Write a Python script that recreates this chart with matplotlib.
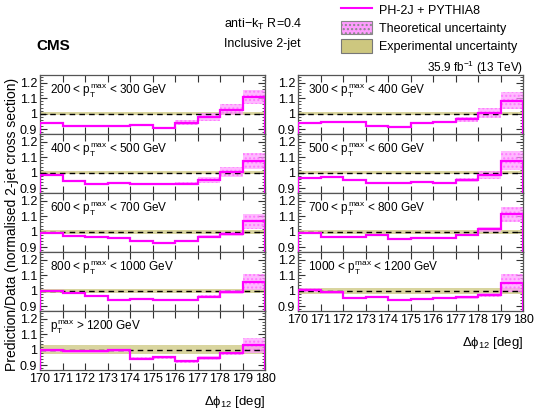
import numpy as np
import matplotlib
matplotlib.use("Agg")
import matplotlib.pyplot as plt
from matplotlib.patches import Patch
from matplotlib.lines import Line2D

plt.rcParams['font.family'] = ['Liberation Sans', 'DejaVu Sans']
plt.rcParams['mathtext.fontset'] = 'custom'
plt.rcParams['mathtext.rm'] = 'Liberation Sans'
plt.rcParams['mathtext.it'] = 'Liberation Sans'

# bin edges in delta phi_12 [deg]
edges = np.arange(170, 181, 1)

# panel labels
labels_left = ["200 < $p_{\\mathrm{T}}^{\\mathrm{max}}$ < 300 GeV",
               "400 < $p_{\\mathrm{T}}^{\\mathrm{max}}$ < 500 GeV",
               "600 < $p_{\\mathrm{T}}^{\\mathrm{max}}$ < 700 GeV",
               "800 < $p_{\\mathrm{T}}^{\\mathrm{max}}$ < 1000 GeV",
               "$p_{\\mathrm{T}}^{\\mathrm{max}}$ > 1200 GeV"]
labels_right = ["300 < $p_{\\mathrm{T}}^{\\mathrm{max}}$ < 400 GeV",
                "500 < $p_{\\mathrm{T}}^{\\mathrm{max}}$ < 600 GeV",
                "700 < $p_{\\mathrm{T}}^{\\mathrm{max}}$ < 800 GeV",
                "1000 < $p_{\\mathrm{T}}^{\\mathrm{max}}$ < 1200 GeV"]

# PH-2J + PYTHIA8 / data ratio per bin
ratio_200 = [0.943, 0.921, 0.919, 0.919, 0.926, 0.911, 0.943, 0.979, 1.026, 1.106]
ratio_400 = [0.985, 0.950, 0.925, 0.933, 0.925, 0.925, 0.930, 0.956, 1.006, 1.075]
ratio_600 = [0.990, 0.975, 0.965, 0.958, 0.938, 0.927, 0.938, 0.969, 0.985, 1.067]
ratio_800 = [0.998, 0.983, 0.967, 0.938, 0.946, 0.942, 0.938, 0.962, 0.994, 1.056]
ratio_1200 = [0.996, 0.990, 0.990, 0.996, 0.943, 0.953, 0.926, 0.947, 0.979, 1.028]
ratio_300 = [0.940, 0.948, 0.948, 0.919, 0.913, 0.938, 0.948, 0.965, 1.006, 1.085]
ratio_500 = [0.965, 0.971, 0.954, 0.933, 0.933, 0.944, 0.933, 0.954, 0.988, 1.079]
ratio_700 = [0.990, 0.964, 0.964, 0.979, 0.954, 0.960, 0.958, 0.981, 1.017, 1.112]
ratio_1000 = [1.005, 0.990, 0.953, 0.959, 0.943, 0.947, 0.953, 0.957, 0.973, 1.050]

# theoretical uncertainty (half width) per bin
theo_200 = [0.005, 0.005, 0.005, 0.005, 0.005, 0.006, 0.015, 0.025, 0.035, 0.045]
theo_400 = [0.005, 0.005, 0.005, 0.005, 0.005, 0.006, 0.008, 0.020, 0.030, 0.050]
theo_600 = [0.006, 0.005, 0.005, 0.005, 0.005, 0.005, 0.006, 0.010, 0.015, 0.050]
theo_800 = [0.006, 0.005, 0.005, 0.005, 0.005, 0.005, 0.006, 0.008, 0.012, 0.050]
theo_1200 = [0.010, 0.010, 0.010, 0.010, 0.010, 0.010, 0.010, 0.010, 0.010, 0.050]
theo_300 = [0.005, 0.005, 0.005, 0.005, 0.005, 0.005, 0.008, 0.015, 0.030, 0.055]
theo_500 = [0.005, 0.005, 0.005, 0.005, 0.005, 0.005, 0.006, 0.010, 0.025, 0.060]
theo_700 = [0.006, 0.005, 0.005, 0.005, 0.005, 0.005, 0.006, 0.008, 0.015, 0.050]
theo_1000 = [0.012, 0.008, 0.006, 0.006, 0.006, 0.006, 0.006, 0.008, 0.010, 0.060]

# experimental uncertainty (half width) per panel
exp_left = [0.010, 0.010, 0.012, 0.012, 0.030]
exp_right = [0.010, 0.010, 0.012, 0.020]

ratios_left = [ratio_200, ratio_400, ratio_600, ratio_800, ratio_1200]
ratios_right = [ratio_300, ratio_500, ratio_700, ratio_1000]
theo_left = [theo_200, theo_400, theo_600, theo_800, theo_1200]
theo_right = [theo_300, theo_500, theo_700, theo_1000]

W, H = 534, 415
fig = plt.figure(figsize=(W / 100, H / 100), dpi=100)

LINE_C = '#ff00ff'
THEO_C = '#ff9cff'
EXP_C = '#cdc77f'


def draw_panel(ax, vals, theo, exp, label, bottom):
    vals = np.array(vals)
    theo = np.array(theo)
    ax.fill_between([170, 180], 1 - exp, 1 + exp, color=EXP_C, alpha=0.75,
                    lw=0, zorder=1)
    ax.fill_between(edges, np.append(vals - theo, vals[-1] - theo[-1]),
                    np.append(vals + theo, vals[-1] + theo[-1]), step='post',
                    facecolor=THEO_C, edgecolor='#ff66ff', hatch='....',
                    lw=0, alpha=0.7, zorder=2)
    ax.axhline(1.0, color='black', ls=(0, (4, 3)), lw=1.0, zorder=3)
    ax.stairs(vals, edges, color=LINE_C, lw=1.6, zorder=4)
    ax.set_xlim(170, 180)
    ax.set_ylim(0.87, 1.25)
    ax.set_yticks([0.9, 1.0, 1.1, 1.2])
    ax.set_yticklabels(['0.9', '1', '1.1', '1.2'])
    ax.set_xticks(np.arange(170, 181, 1))
    ax.set_yticks(np.arange(0.88, 1.25, 0.02), minor=True)
    ax.tick_params(which='both', direction='in', top=True, right=True,
                   labelsize=9, pad=2, color='#333333')
    ax.tick_params(which='major', length=5)
    ax.tick_params(which='minor', length=2.5)
    if not bottom:
        ax.tick_params(axis='x', labelbottom=False)
    for s in ax.spines.values():
        s.set_color('#555555')
        s.set_linewidth(0.9)
    ax.text(0.045, 0.73, label, transform=ax.transAxes, fontsize=8.5,
            va='center', ha='left')


top = 75
ph = 59
lx, rx, aw = 40, 298, 225
for i in range(5):
    ax = fig.add_axes([lx / W, 1 - (top + (i + 1) * ph) / H, aw / W, ph / H])
    draw_panel(ax, ratios_left[i], theo_left[i], exp_left[i], labels_left[i], i == 4)
    if i == 4:
        ax.text(1.0, -0.55, '$\\Delta\\phi_{12}$ [deg]', transform=ax.transAxes,
                ha='right', va='center', fontsize=9.5)
for i in range(4):
    ax = fig.add_axes([rx / W, 1 - (top + (i + 1) * ph) / H, aw / W, ph / H])
    draw_panel(ax, ratios_right[i], theo_right[i], exp_right[i], labels_right[i], i == 3)
    if i == 3:
        ax.text(1.0, -0.55, '$\\Delta\\phi_{12}$ [deg]', transform=ax.transAxes,
                ha='right', va='center', fontsize=9.5)

fig.text(12 / W, 1 - 224 / H, 'Prediction/Data (normalised 2-jet cross section)',
         rotation=90, ha='center', va='center', fontsize=10)
fig.text(36 / W, 1 - 46 / H, 'CMS', fontweight='bold', fontsize=11,
         ha='left', va='center')
fig.text(224 / W, 1 - 24 / H, 'anti$-$k$_{\\mathrm{T}}$ R=0.4', fontsize=9,
         ha='left', va='center')
fig.text(224 / W, 1 - 44 / H, 'Inclusive 2-jet', fontsize=9,
         ha='left', va='center')
fig.text(523 / W, 1 - 68 / H, '35.9 fb$^{-1}$ (13 TeV)', fontsize=8.5,
         ha='right', va='center')

handles = [Line2D([], [], color=LINE_C, lw=1.5),
           Patch(facecolor=THEO_C, edgecolor='#888888', hatch='....', lw=0.8),
           Patch(facecolor=EXP_C, edgecolor='#777777', lw=0.8)]
fig.legend(handles, ['PH-2J + PYTHIA8', 'Theoretical uncertainty',
                     'Experimental uncertainty'],
           loc='upper left', bbox_to_anchor=(338 / W, 1 - 0 / H), frameon=False,
           fontsize=9, handlelength=2.5, handleheight=1.3, labelspacing=0.35,
           handletextpad=0.6, borderaxespad=0, borderpad=0.2)

fig.savefig('out.png', dpi=100)
